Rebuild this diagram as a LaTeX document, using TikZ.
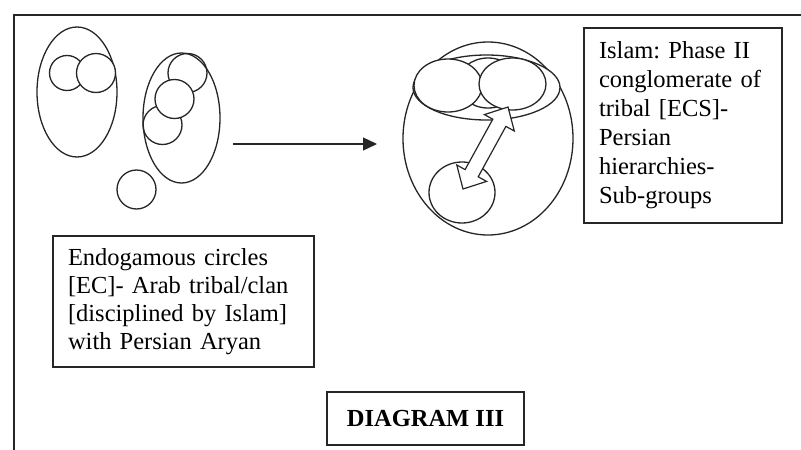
\documentclass[tikz,border=0pt]{standalone}
\usepackage{fontspec}
\setmainfont{Liberation Serif}
\usetikzlibrary{arrows.meta}
\begin{document}
\frenchspacing
\begin{tikzpicture}[x=1pt,y=-1pt,
  shapeline/.style={draw=black!85,line width=1.3pt},
  textbox/.style={draw=black!85,line width=1.4pt,inner xsep=15pt,align=left,
    font=\fontsize{24.5}{28}\selectfont},
  titlebox/.style={draw=black!85,line width=1.4pt,minimum width=197pt,minimum height=53pt,
    inner sep=0pt,font=\fontsize{24.5}{28}\selectfont\bfseries}]
\fill[white] (0,0) rectangle (801,450);
\useasboundingbox (0,0) rectangle (801,450);
% outer frame
\draw[black!85,line width=1.5pt] (14,450) -- (14,15) -- (801,15);
% left group
\draw[shapeline] (77,92) ellipse [x radius=40, y radius=65];
\draw[shapeline] (67,73) circle [radius=17.5];
\draw[shapeline,fill=white] (96,73) circle [radius=19.5];
\draw[shapeline] (181.5,118) ellipse [x radius=38.5, y radius=65];
\draw[shapeline] (187.5,73) circle [radius=19.5];
\draw[shapeline] (162.5,125) circle [radius=19.5];
\draw[shapeline,fill=white] (174.5,99) circle [radius=19.5];
\draw[shapeline] (136.5,189.5) circle [radius=19.5];
% connector
\coordinate (g1) at (233,144);
\coordinate (g2) at (377,144);
\draw[black!85,line width=1.3pt,-{Triangle[length=14pt,width=13pt]}] (g1) -- (g2);
% right group
\draw[shapeline] (488,138.5) ellipse [x radius=85, y radius=96.5];
\draw[shapeline,fill=white] (486.5,87.5) ellipse [x radius=73.5, y radius=32.5];
\draw[shapeline,fill=white] (488,83) ellipse [x radius=30, y radius=25];
\draw[shapeline,fill=white] (448,85.5) ellipse [x radius=34, y radius=26.5];
\draw[shapeline,fill=white] (512.5,84) ellipse [x radius=33.5, y radius=26];
\draw[shapeline] (462,192.5) ellipse [x radius=33, y radius=30.5];
% double block arrow
\draw[shapeline,line width=1.2pt,fill=white,line join=miter]
  (463,189) -- (456.8,165.0) -- (465.1,169.6) -- (492.8,119.2) -- (484.4,114.6)
  -- (508,107) -- (514.3,131.0) -- (505.9,126.4) -- (478.2,176.8) -- (486.6,181.4) -- cycle;
% text boxes
\node[textbox,text width=168pt,minimum height=195pt,font=\fontsize{24.5}{29}\selectfont]
  (phase) at (683,125.5)
  {Islam: Phase II\\conglomerate of\\tribal [ECS]-\\Persian\\hierarchies-\\Sub-groups};
\node[textbox,text width=231pt,minimum height=131pt] (endo) at (183.5,301.5)
  {Endogamous circles\\{[EC]}- Arab tribal/clan\\{[disciplined by Islam]}\\with Persian Aryan};
\node[titlebox] (title) at (425.5,418.5) {DIAGRAM III};
\end{tikzpicture}
\end{document}
